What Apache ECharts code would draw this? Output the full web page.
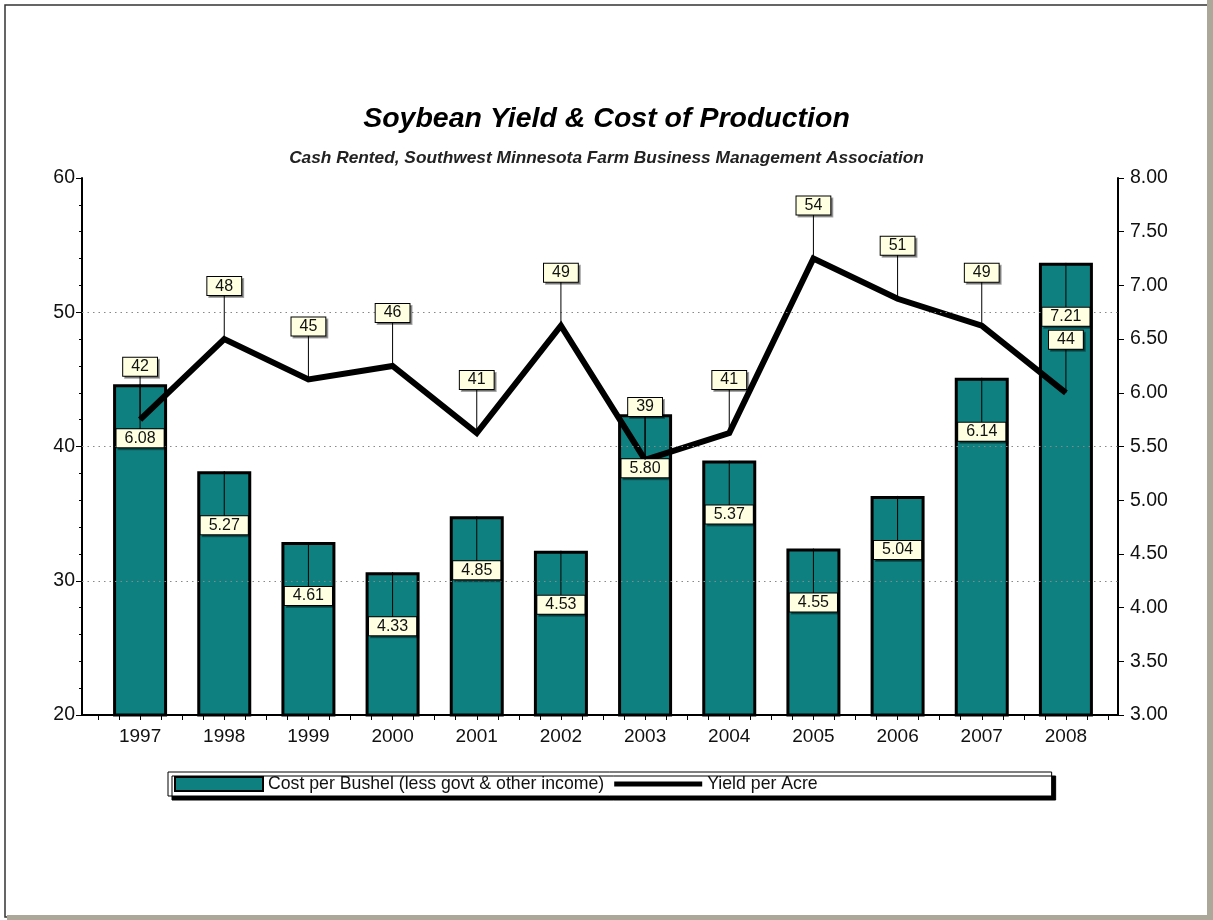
<!DOCTYPE html>
<html>
<head>
<meta charset="utf-8">
<title>Soybean Yield & Cost of Production</title>
<script src="https://cdn.jsdelivr.net/npm/echarts@6/dist/echarts.min.js"></script>
<style>
  html, body { margin: 0; padding: 0; background: #fff; }
  #main { width: 1213px; height: 920px; }
</style>
</head>
<body>
<div id="main"></div>
<script>
// data
var years = ['1997', '1998', '1999', '2000', '2001', '2002', '2003', '2004', '2005', '2006', '2007', '2008'];
var costPerBushel = [6.08, 5.27, 4.61, 4.33, 4.85, 4.53, 5.80, 5.37, 4.55, 5.04, 6.14, 7.21];
var yieldPerAcre = [42, 48, 45, 46, 41, 49, 39, 41, 54, 51, 49, 44];
var yieldGridValues = [30, 40, 50];

var FONT = "'Liberation Sans', Arial, sans-serif";
var TEAL = '#0e8080';

var myChart = echarts.init(document.getElementById('main'));

// label box with a leader line, offset from the point (dy in px)
var labelRenderer = function (dy, digits) {
    return function (params, api) {
        var pt = api.coord([api.value(0), api.value(1)]);
        var v = api.value(1);
        return {
            type: 'group',
            children: [{
                type: 'line',
                shape: { x1: pt[0], y1: pt[1], x2: pt[0], y2: pt[1] + dy },
                style: { stroke: '#000', lineWidth: 1 }
            }, {
                type: 'text',
                x: pt[0],
                y: pt[1] + dy,
                style: {
                    text: v.toFixed(digits),
                    fontSize: 16,
                    fontFamily: FONT,
                    fill: '#111',
                    align: 'center',
                    verticalAlign: 'middle',
                    lineHeight: 16,
                    backgroundColor: '#ffffe1',
                    borderColor: '#000',
                    borderWidth: 1,
                    padding: [1, 8, 1, 8],
                    shadowColor: 'rgba(0,0,0,0.35)',
                    shadowOffsetX: 2,
                    shadowOffsetY: 2
                }
            }]
        };
    };
};

var options = {
    animation: false,
    backgroundColor: '#fff',
    title: [{
        text: 'Soybean Yield & Cost of Production',
        left: 'center',
        top: 105,
        padding: 0,
        textStyle: { fontFamily: FONT, fontSize: 28.5, fontWeight: 'bold', fontStyle: 'italic', color: '#000' }
    }, {
        text: 'Cash Rented, Southwest Minnesota Farm Business Management Association',
        left: 'center',
        top: 150,
        padding: 0,
        textStyle: { fontFamily: FONT, fontSize: 17.3, fontWeight: 'bold', fontStyle: 'italic', color: '#222' }
    }],
    legend: {
        data: [
            { name: 'Cost per Bushel (less govt & other income)', icon: 'rect' },
            { name: 'Yield per Acre', icon: 'path://M0,0H88V5H0Z' }
        ],
        left: 168,
        top: 772,
        padding: [3, 234, 3, 6],
        itemGap: 10,
        itemWidth: 88,
        itemHeight: 14,
        symbolKeepAspect: true,
        backgroundColor: '#fff',
        borderColor: '#000',
        borderWidth: 1,
        shadowColor: '#000',
        shadowBlur: 0,
        shadowOffsetX: 4,
        shadowOffsetY: 4,
        textStyle: { fontFamily: FONT, fontSize: 17.7, color: '#111', padding: [0, 0, 0, 0] }
    },
    graphic: [
        { type: 'rect', shape: { x: 5, y: 5, width: 1205, height: 912 }, style: { fill: 'none', stroke: '#333', lineWidth: 1.5 } },
        { type: 'rect', shape: { x: 1207, y: 0, width: 6, height: 920 }, style: { fill: '#aca899' } },
        { type: 'rect', shape: { x: 7, y: 915, width: 1206, height: 5 }, style: { fill: '#aca899' } }
    ],
    grid: [
        { left: 98, right: 105, top: 178, bottom: 205 },
        { left: 82, right: 95, top: 178, bottom: 205 }
    ],
    xAxis: [{
        type: 'category',
        gridIndex: 0,
        data: years,
        axisLine: { show: false },
        axisTick: { show: false },
        axisLabel: { fontFamily: FONT, fontSize: 19, color: '#111', margin: 12 }
    }, {
        // quarter ticks along the base
        type: 'value',
        gridIndex: 0,
        position: 'bottom',
        min: 0,
        max: 12,
        interval: 0.25,
        axisLine: { show: false, onZero: false },
        axisTick: { show: true, length: 5, lineStyle: { color: '#000' } },
        axisLabel: { show: false },
        splitLine: { show: false }
    }, {
        type: 'value',
        gridIndex: 1,
        position: 'bottom',
        min: 0,
        max: 1,
        axisLine: { show: true, onZero: false, lineStyle: { color: '#000', width: 2 } },
        axisTick: { show: false },
        axisLabel: { show: false },
        splitLine: { show: false }
    }],
    yAxis: [{
        type: 'value',
        gridIndex: 1,
        position: 'left',
        min: 20,
        max: 60,
        interval: 10,
        axisLine: { show: true, lineStyle: { color: '#000', width: 2 } },
        axisTick: { show: true, length: 6, lineStyle: { color: '#000' } },
        minorTick: { show: true, splitNumber: 5, length: 3, lineStyle: { color: '#000' } },
        axisLabel: { fontFamily: FONT, fontSize: 19.5, color: '#111', margin: 7 },
        splitLine: { show: false }
    }, {
        type: 'value',
        gridIndex: 1,
        position: 'right',
        min: 3,
        max: 8,
        interval: 0.5,
        axisLine: { show: true, lineStyle: { color: '#000', width: 2 } },
        axisTick: { show: true, length: 6, lineStyle: { color: '#000' } },
        axisLabel: { fontFamily: FONT, fontSize: 19.5, color: '#111', margin: 12, formatter: function (v) { return v.toFixed(2); } },
        splitLine: { show: false }
    }, {
        type: 'value', gridIndex: 0, min: 20, max: 60, show: false
    }, {
        type: 'value', gridIndex: 0, min: 3, max: 8, show: false
    }],
    series: [{
        // dotted gridlines across the full plot
        type: 'line',
        xAxisIndex: 2,
        yAxisIndex: 0,
        data: [],
        silent: true,
        markLine: {
            silent: true,
            symbol: 'none',
            label: { show: false },
            lineStyle: { type: [1.5, 4], color: '#888', width: 1 },
            data: yieldGridValues.map(function (v) { return { yAxis: v }; })
        }
    }, {
        name: 'Cost per Bushel (less govt & other income)',
        type: 'bar',
        xAxisIndex: 0,
        yAxisIndex: 3,
        data: costPerBushel,
        barWidth: 54,
        itemStyle: { color: TEAL, borderColor: '#000', borderWidth: 3 },
        z: 2
    }, {
        name: 'Yield per Acre',
        type: 'line',
        xAxisIndex: 0,
        yAxisIndex: 2,
        data: yieldPerAcre,
        symbol: 'none',
        lineStyle: { color: '#000', width: 6, join: 'miter' },
        itemStyle: { color: '#000' },
        z: 3
    }, {
        type: 'custom',
        xAxisIndex: 0,
        yAxisIndex: 3,
        data: costPerBushel.map(function (v, i) { return [i, v]; }),
        renderItem: labelRenderer(54, 2),
        silent: true,
        z: 10
    }, {
        type: 'custom',
        xAxisIndex: 0,
        yAxisIndex: 2,
        data: yieldPerAcre.map(function (v, i) { return [i, v]; }),
        renderItem: labelRenderer(-53, 0),
        silent: true,
        z: 11
    }]
};

window.onload = function () {
    myChart.setOption(options);
};
</script>
</body>
</html>
